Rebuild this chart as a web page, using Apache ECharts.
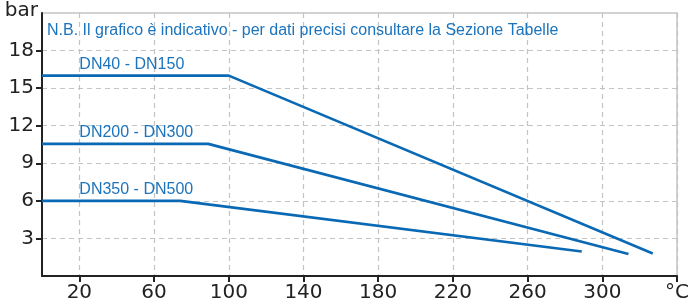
<!DOCTYPE html>
<html>
<head>
<meta charset="utf-8">
<script src="https://cdn.jsdelivr.net/npm/echarts@6/dist/echarts.min.js"></script>
<style>
  html, body { margin: 0; padding: 0; background: #fff; }
  #chart { width: 692px; height: 307px; }
</style>
</head>
<body>
<div id="chart"></div>
<script>
// valori (temperatura °C, pressione bar)
const dn40Label = "DN40 - DN150";
const dn40Data = [[0, 16], [100, 16], [327, 1.8]];
const dn200Label = "DN200 - DN300";
const dn200Data = [[0, 10.55], [89, 10.55], [314, 1.75]];
const dn350Label = "DN350 - DN500";
const dn350Data = [[0, 6], [74, 6], [289, 1.95]];

const xTickLabels = [20, 60, 100, 140, 180, 220, 260, 300, 340];
const yTickLabels = [3, 6, 9, 12, 15, 18];
const note = "N.B. Il grafico è indicativo - per dati precisi consultare la Sezione Tabelle";

const blue = "#0a69b4";
const textBlue = "#1b74bd";
const axisFont = "DejaVu Sans";

function makeSeries(name, data) {
  return {
    name: name,
    type: "line",
    data: data,
    symbol: "none",
    lineStyle: { color: blue, width: 2.6 },
    markPoint: {
      symbol: "circle",
      symbolSize: 0,
      data: [{ coord: [20, data[0][1]] }],
      label: {
        show: true,
        position: "top",
        align: "left",
        distance: 3,
        formatter: name,
        color: textBlue,
        fontFamily: "Liberation Sans",
        fontSize: 16,
      },
    },
  };
}

const myChart = echarts.init(document.getElementById("chart"));
myChart.setOption({
  animation: false,
  title: {
    text: note,
    left: 42,
    top: 18,
    textStyle: {
      color: textBlue,
      fontFamily: "Liberation Sans",
      fontSize: 16,
      fontWeight: "normal",
    },
  },
  grid: {
    left: 42,
    right: 8,
    top: 13,
    bottom: 31,
    show: true,
    borderColor: "#c4c4c4",
    borderWidth: 1.5,
  },
  xAxis: {
    type: "value",
    min: 0,
    max: 340,
    interval: 20,
    axisLine: { lineStyle: { color: "#222", width: 2 } },
    axisTick: {
      customValues: xTickLabels,
      length: 6,
      lineStyle: { color: "#222", width: 2 },
    },
    axisLabel: {
      customValues: xTickLabels,
      formatter: (v) => (v === 340 ? "°C" : v),
      margin: 7,
      color: "#222",
      fontFamily: axisFont,
      fontSize: 20,
    },
    splitLine: {
      show: true,
      lineStyle: { color: "#c4c4c4", type: [5, 4], width: 1.2 },
    },
  },
  yAxis: {
    type: "value",
    min: 0,
    max: 21,
    interval: 3,
    name: "bar",
    nameLocation: "end",
    nameGap: 2,
    nameTextStyle: {
      align: "right",
      verticalAlign: "middle",
      padding: [0, 4, 0, 0],
      color: "#222",
      fontFamily: axisFont,
      fontSize: 20,
    },
    axisLine: { show: true, lineStyle: { color: "#222", width: 2 } },
    axisTick: {
      show: true,
      customValues: yTickLabels,
      length: 6,
      lineStyle: { color: "#222", width: 2 },
    },
    axisLabel: {
      customValues: yTickLabels,
      margin: 8,
      color: "#222",
      fontFamily: axisFont,
      fontSize: 20,
    },
    splitLine: {
      show: true,
      lineStyle: { color: "#c4c4c4", type: [5, 4], width: 1.2 },
    },
  },
  series: [
    makeSeries(dn40Label, dn40Data),
    makeSeries(dn200Label, dn200Data),
    makeSeries(dn350Label, dn350Data),
  ],
});
</script>
</body>
</html>
